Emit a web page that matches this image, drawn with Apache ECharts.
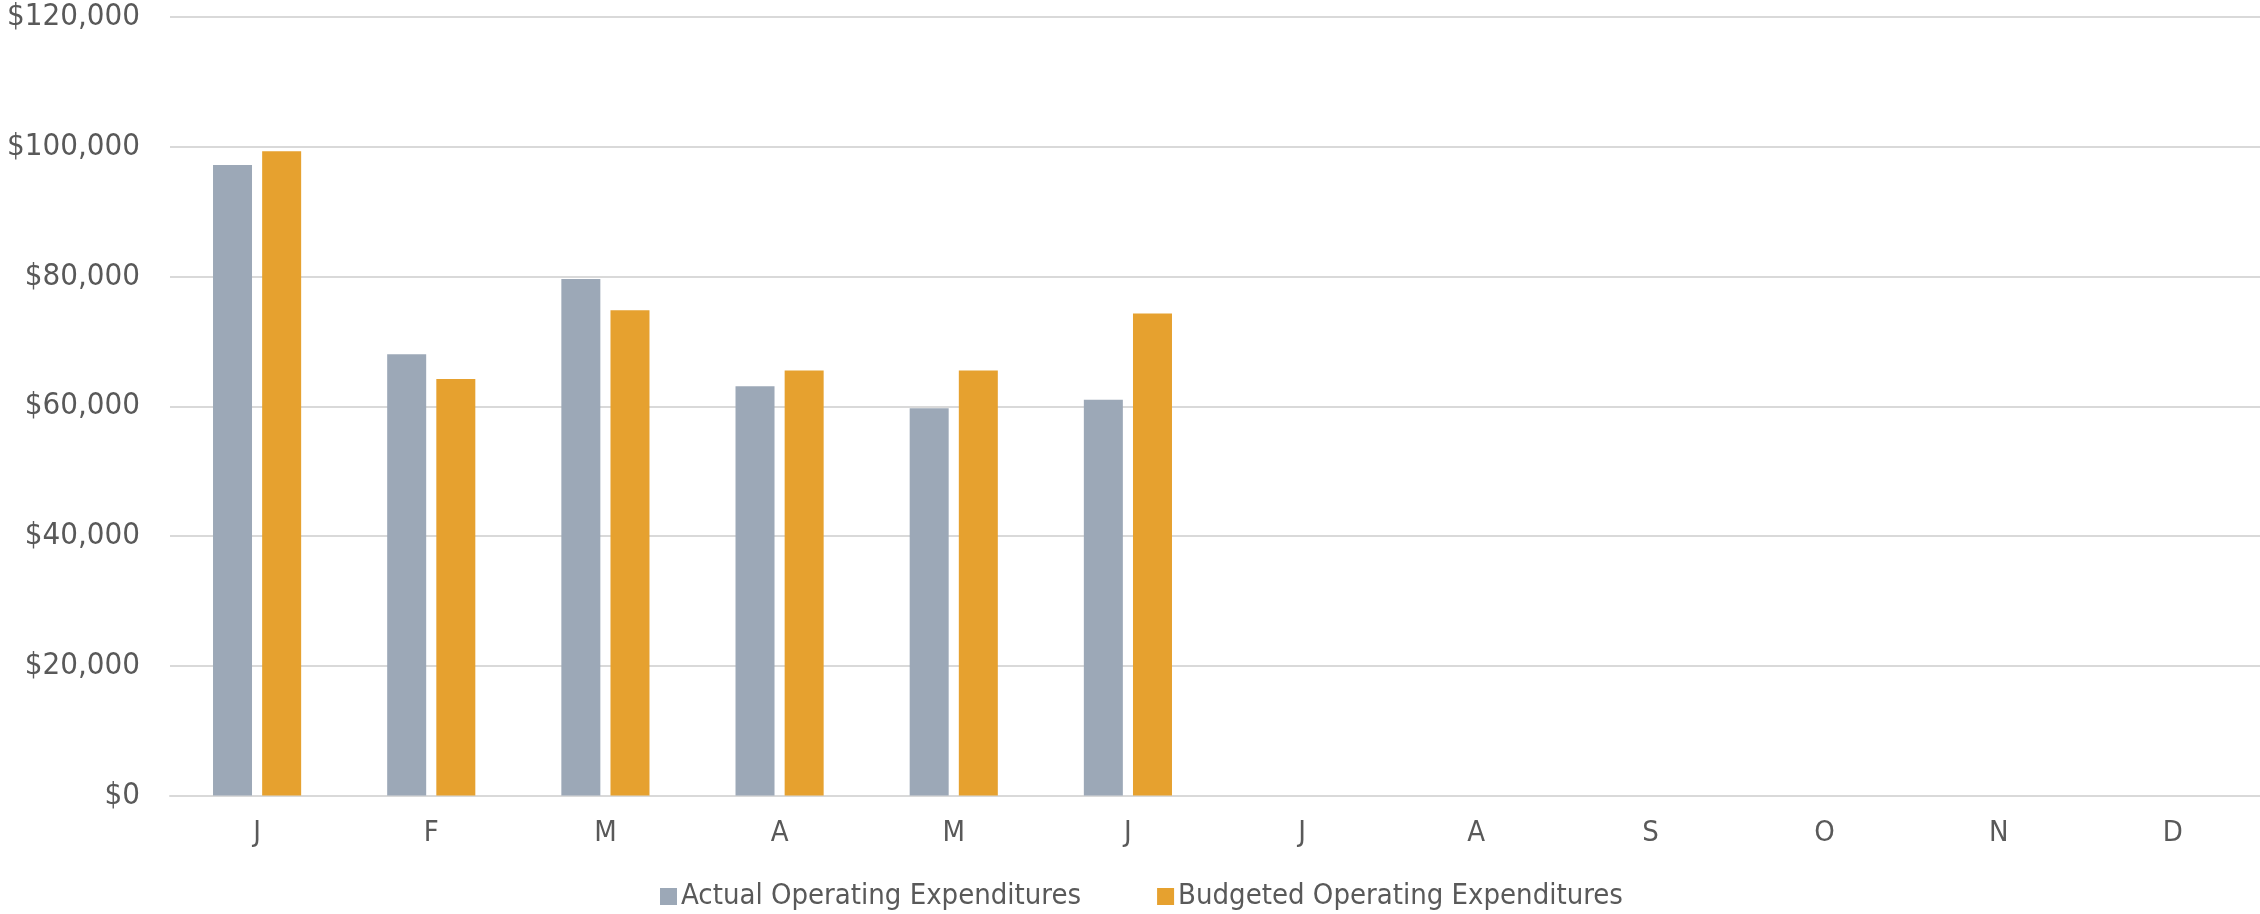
<!DOCTYPE html>
<html>
<head>
<meta charset="utf-8">
<title>Operating Expenditures</title>
<script src="https://cdn.jsdelivr.net/npm/echarts@6/dist/echarts.min.js"></script>
<style>
  html, body { margin: 0; padding: 0; background: #ffffff; }
  #chart { width: 2260px; height: 914px; }
</style>
</head>
<body>
<div id="chart"></div>
<script>
// Monthly operating expenditures, actual vs budget
const months = ['J', 'F', 'M', 'A', 'M', 'J', 'J', 'A', 'S', 'O', 'N', 'D'];
const actualSpend = [97200, 68000, 79600, 63100, 59700, 61000, null, null, null, null, null, null];
const budgetSpend = [99300, 64200, 74800, 65500, 65500, 74300, null, null, null, null, null, null];
const yTicks = { min: 0, max: 120000, step: 20000 };

const textColor = '#595959';
const fontFamily = '"DejaVu Sans Condensed", "Liberation Sans", Arial, sans-serif';

const chart = echarts.init(document.getElementById('chart'), null, { renderer: 'canvas' });

chart.setOption({
  animation: false,
  backgroundColor: '#ffffff',
  textStyle: { fontFamily: fontFamily },
  grid: { left: 170, right: 0, top: 17, bottom: 118.5, containLabel: false },
  legend: {
    left: 655,
    top: 877,
    itemWidth: 17,
    itemHeight: 17,
    itemGap: 76,
    icon: 'rect',
    textStyle: { color: textColor, fontSize: 29, fontFamily: fontFamily, padding: [0, 0, 0, -1] },
    data: ['Actual Operating Expenditures', 'Budgeted Operating Expenditures']
  },
  xAxis: {
    type: 'category',
    data: months,
    axisLine: { show: true, lineStyle: { color: '#d9d9d9', width: 2 } },
    axisTick: { show: false },
    axisLabel: { color: textColor, fontSize: 29, margin: 23, fontFamily: fontFamily },
    splitLine: { show: false }
  },
  yAxis: {
    type: 'value',
    min: yTicks.min,
    max: yTicks.max,
    interval: yTicks.step,
    axisLine: { show: false },
    axisTick: { show: false },
    axisLabel: {
      color: textColor,
      fontSize: 31,
      margin: 30,
      fontFamily: fontFamily,
      formatter: v => '$' + v.toLocaleString('en-US')
    },
    splitLine: { lineStyle: { color: '#d9d9d9', width: 2 } }
  },
  series: [
    {
      name: 'Actual Operating Expenditures',
      type: 'bar',
      data: actualSpend,
      barWidth: 39,
      barGap: '26%',
      itemStyle: { color: '#9ca8b7' }
    },
    {
      name: 'Budgeted Operating Expenditures',
      type: 'bar',
      data: budgetSpend,
      barWidth: 39,
      itemStyle: { color: '#e6a12f' }
    }
  ]
});
</script>
</body>
</html>
